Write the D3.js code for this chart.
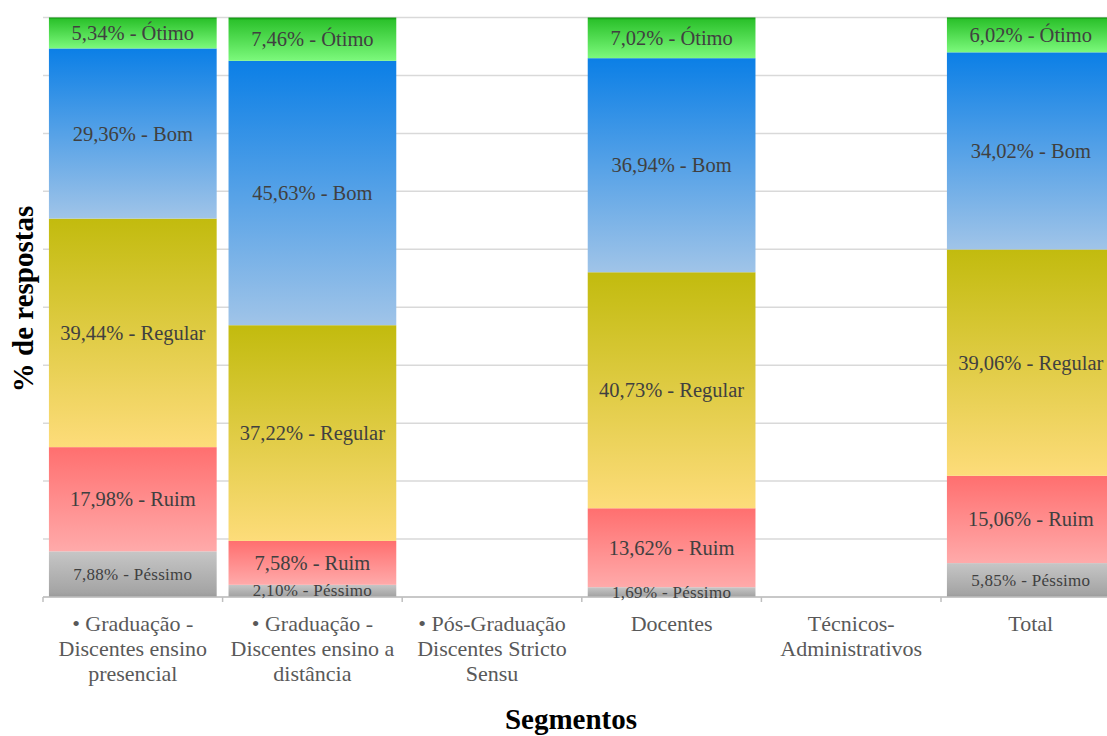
<!DOCTYPE html>
<html><head><meta charset="utf-8">
<script src="https://cdn.jsdelivr.net/npm/d3@7"></script>
<style>body{margin:0;background:#fff}svg{display:block}</style>
</head><body>
<svg id="chart" width="1107" height="736"></svg>
<script>
const categories = [
  ["• Graduação -", "Discentes ensino", "presencial"],
  ["• Graduação -", "Discentes ensino a", "distância"],
  ["• Pós-Graduação", "Discentes Stricto", "Sensu"],
  ["Docentes"],
  ["Técnicos-", "Administrativos"],
  ["Total"]
];
const seriesNames = ["Péssimo", "Ruim", "Regular", "Bom", "Ótimo"];
const pessimo = [7.88, 2.10, null, 1.69, null, 5.85];
const ruim    = [17.98, 7.58, null, 13.62, null, 15.06];
const regular = [39.44, 37.22, null, 40.73, null, 39.06];
const bom     = [29.36, 45.63, null, 36.94, null, 34.02];
const otimo   = [5.34, 7.46, null, 7.02, null, 6.02];
const yTicks = [0,10,20,30,40,50,60,70,80,90,100];

const seriesValues = [pessimo, ruim, regular, bom, otimo];
const gradStops = [
  [[0,"#c6c6c6"],[0.9,"#a4a4a4"],[1,"#9a9a9a"]],
  [[0,"#ff6f6f"],[1,"#ffaaaa"]],
  [[0,"#c2bb0e"],[1,"#fddc7a"]],
  [[0,"#0b7fe6"],[1,"#a0c4e8"]],
  [[0,"#0a8f0a"],[0.06,"#2cc22c"],[1,"#7cf97c"]]
];
const serif = "'Liberation Serif','Times New Roman',Times,serif";

const svg = d3.select("#chart");
const mLeft = 43, mTop = 17.5, mBottom = 597;
const step = 179.6;
const x = d3.scaleBand().domain(d3.range(categories.length))
  .range([mLeft, mLeft + step*categories.length]).paddingInner(0.066).paddingOuter(0.033);
const y = d3.scaleLinear().domain([0,100]).range([mBottom, mTop]);

const defs = svg.append("defs");
gradStops.forEach((stops,i)=>{
  const g = defs.append("linearGradient").attr("id","g"+i)
    .attr("x1",0).attr("y1",0).attr("x2",0).attr("y2",1);
  stops.forEach(s=>g.append("stop").attr("offset",s[0]).attr("stop-color",s[1]));
});

// gridlines
svg.append("g").selectAll("line").data(yTicks).join("line")
  .attr("x1",mLeft).attr("x2",1107).attr("y1",d=>y(d)).attr("y2",d=>y(d))
  .attr("stroke","#d9d9d9").attr("stroke-width",1.5);

// stack data
const rows = categories.map((c,i)=>{
  const o = {i};
  seriesNames.forEach((s,k)=>o[s]=seriesValues[k][i]||0);
  return o;
});
const stacked = d3.stack().keys(seriesNames)(rows);

const gBars = svg.append("g");
stacked.forEach((layer,k)=>{
  gBars.append("g").attr("fill","url(#g"+k+")").selectAll("rect")
    .data(layer.filter(d=>d[1]-d[0]>0)).join("rect")
    .attr("x",d=>x(d.data.i)).attr("width",x.bandwidth())
    .attr("y",d=>y(d[1])).attr("height",d=>y(d[0])-y(d[1]));
});

// axis line + ticks
svg.append("line").attr("x1",mLeft).attr("x2",1107).attr("y1",mBottom).attr("y2",mBottom)
  .attr("stroke","#bfbfbf").attr("stroke-width",1.5);
svg.append("g").selectAll("line").data(d3.range(categories.length+1)).join("line")
  .attr("x1",d=>mLeft+d*step).attr("x2",d=>mLeft+d*step)
  .attr("y1",mBottom).attr("y2",mBottom+5).attr("stroke","#bfbfbf").attr("stroke-width",1.5);

// labels
const fmt = v => d3.format(".2f")(v).replace(".",",");
stacked.forEach((layer,k)=>{
  svg.append("g").selectAll("text").data(layer.filter(d=>d[1]-d[0]>0)).join("text")
    .attr("x",d=>x(d.data.i)+x.bandwidth()/2)
    .attr("y",d=>(y(d[0])+y(d[1]))/2 + (k===0 ? 5.5 : 7))
    .attr("text-anchor","middle")
    .attr("font-family",serif)
    .attr("font-size", k===0 ? 17 : 20.5)
    .attr("letter-spacing", k===0 ? 0.3 : 0)
    .attr("fill","#404040")
    .text(d=>fmt(d[1]-d[0]) + "% - " + seriesNames[k]);
});

// category labels
const cat = svg.append("g");
categories.forEach((lines,i)=>{
  const t = cat.append("text").attr("text-anchor","middle")
    .attr("font-family",serif)
    .attr("font-size",22).attr("fill","#595959");
  lines.forEach((l,j)=>t.append("tspan").attr("x",x(i)+x.bandwidth()/2)
    .attr("y",631+j*25).text(l));
});

// axis titles
svg.append("text").attr("x",571).attr("y",729).attr("text-anchor","middle")
  .attr("font-family",serif).attr("font-weight","bold")
  .attr("font-size",29).attr("fill","#000").text("Segmentos");
svg.append("text").attr("transform","translate(33,299) rotate(-90)").attr("text-anchor","middle")
  .attr("font-family",serif).attr("font-weight","bold")
  .attr("font-size",29).attr("fill","#000").text("% de respostas");
</script>
</body></html>
